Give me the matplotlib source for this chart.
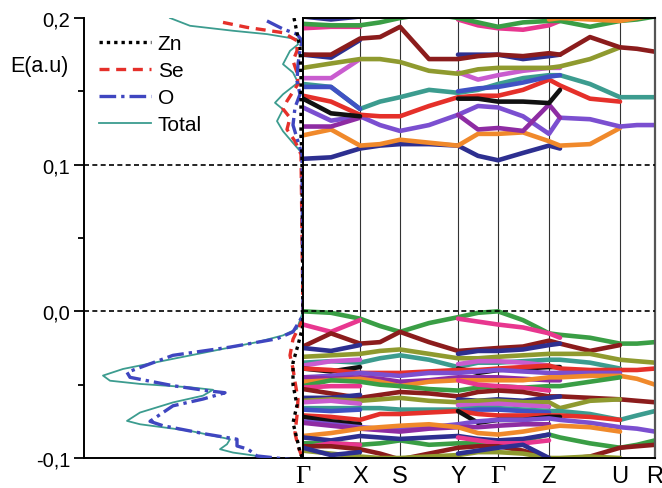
import numpy as np
import matplotlib
matplotlib.use("Agg")
import matplotlib.pyplot as plt

plt.rcParams['font.family'] = ['Liberation Sans', 'DejaVu Sans']
nan = np.nan

# ---------------- k path ----------------
k_nodes = [0, 28, 57, 77, 97, 126, 155, 175, 195, 220, 246, 257, 287, 317, 334, 352]
sym_k = [0, 57, 97, 155, 195, 246, 317, 352]
sym_labels = ['Γ', 'X', 'S', 'Y', 'Γ', 'Z', 'U', 'R']

C = {
    'navy': '#2d2f90', 'orange': '#f0892b', 'violet': '#7b4fd0', 'dpurple': '#8e2ca3',
    'red': '#e5302a', 'black': '#111111', 'teal': '#3c9c8f', 'blue': '#4052c4',
    'orchid': '#c95ccf', 'olive': '#8f9a2f', 'dred': '#8b1c1c', 'green': '#3a9e45',
    'pink': '#e8378f',
}

# ---------------- conduction bands (a.u.) ----------------
cond_colors = ['navy', 'orange', 'violet', 'dpurple', 'red', 'black', 'teal', 'blue',
               'orchid', 'olive', 'navy', 'dred', 'pink', 'green', 'orange', 'navy']
cond_bands = [
    [.104, .105, .111, .113, .114, .114, .113, .106, .103, .108, .113, .111, nan, nan, nan, nan],
    [.120, .124, .113, .114, .117, .115, .113, .121, .121, .122, .116, .113, .114, .125, nan, nan],
    [.139, .130, .133, .127, .123, .127, .134, .140, .139, .133, .121, .132, .131, .126, .127, .127],
    [.126, .126, .132, nan, nan, nan, .134, .124, .125, .123, .141, .132, nan, nan, nan, nan],
    [.147, .143, .134, .133, .133, .140, .146, .147, .147, .151, .158, .154, .145, .143, nan, nan],
    [.145, .135, .133, nan, nan, nan, .145, .145, .143, .143, .142, .151, nan, nan, nan, nan],
    [.155, .153, .138, .143, .146, .151, .149, .151, .155, .159, .161, .161, .155, .146, .146, .146],
    [.153, .153, .138, nan, nan, nan, .150, .152, .153, .156, .160, .161, nan, nan, nan, nan],
    [.159, .159, .172, nan, nan, nan, .163, .158, .161, .164, .166, .166, nan, nan, nan, nan],
    [.166, .169, .172, .172, .170, .164, .162, .165, .166, .166, .166, .167, .172, .180, nan, nan],
    [.175, .173, .185, nan, nan, nan, .175, .175, .175, .172, .174, .175, nan, nan, nan, nan],
    [.175, .175, .186, .187, .194, .172, .172, .174, .175, .174, .176, .175, .187, .180, .179, .177],
    [.193, .194, .194, nan, nan, nan, .199, .195, .193, .192, .195, .198, nan, nan, nan, nan],
    [.196, .195, .195, .197, .200, .203, .200, .197, .194, .197, .198, .198, .194, .198, .199, .201],
    [nan, nan, nan, nan, nan, nan, nan, nan, nan, nan, .199, .200, .199, .198, .200, .202],
    [.201, .199, .201, nan, nan, nan, nan, nan, nan, nan, nan, nan, nan, nan, nan, nan],
]

# ---------------- valence bands (a.u.) ----------------
val_colors = ['green', 'pink', 'dred', 'navy', 'olive', 'teal', 'orchid', 'black', 'red',
              'violet', 'dpurple', 'orange', 'green', 'pink', 'dred', 'navy', 'olive',
              'orchid', 'teal', 'blue', 'red', 'black', 'violet', 'dpurple', 'orange',
              'green', 'navy', 'pink', 'dred', 'olive', 'navy']
val_bands = [
    [.000, -.001, -.005, -.010, -.014, -.008, -.004, -.001, .000, -.006, -.015, -.016, -.018, -.022, -.022, -.021],
    [-.009, -.014, -.006, nan, nan, nan, -.005, -.007, -.009, -.011, -.015, -.018, nan, nan, nan, nan],
    [-.024, -.015, -.022, -.021, -.014, -.021, -.027, -.026, -.025, -.024, -.020, -.022, -.027, -.023, nan, nan],
    [-.025, -.027, -.023, nan, nan, nan, -.029, -.027, -.027, -.026, -.023, -.022, nan, nan, nan, nan],
    [-.031, -.030, -.029, -.027, -.026, -.029, -.032, -.032, -.031, -.030, -.029, -.029, -.029, -.033, -.034, -.035],
    [-.035, -.034, -.035, -.032, -.030, -.033, -.038, -.035, -.035, -.034, -.033, -.033, -.035, -.039, nan, nan],
    [-.037, -.034, -.033, nan, nan, nan, -.036, -.034, -.034, -.035, -.037, nan, nan, nan, nan, nan],
    [-.039, -.041, -.038, nan, nan, nan, -.039, -.042, -.040, -.039, -.038, -.038, nan, nan, nan, nan],
    [-.039, -.040, -.042, -.042, -.042, -.041, -.040, -.040, -.039, -.038, -.037, -.039, -.040, -.040, -.040, -.039],
    [-.045, -.044, -.042, -.043, -.044, -.042, -.042, -.041, -.040, -.041, -.042, -.042, -.042, -.042, nan, nan],
    [-.045, -.046, -.045, -.046, -.048, -.047, -.045, -.045, -.045, -.046, -.047, -.047, nan, nan, nan, nan],
    [-.048, -.047, -.046, -.048, -.051, -.048, -.047, -.047, -.047, -.047, -.045, -.045, -.044, -.044, -.046, -.050],
    [-.051, -.047, -.048, -.050, -.051, -.053, -.054, -.052, -.051, -.052, -.051, -.051, -.048, -.045, nan, nan],
    [-.052, -.051, -.051, nan, nan, nan, -.047, -.050, -.051, -.052, -.054, nan, nan, nan, nan, nan],
    [-.053, -.056, -.059, -.057, -.055, -.056, -.058, -.055, -.054, -.055, -.058, -.058, -.059, -.060, -.061, -.062],
    [-.059, -.059, -.057, nan, nan, nan, -.060, -.061, -.060, -.061, -.059, -.058, nan, nan, nan, nan],
    [-.061, -.060, -.061, -.060, -.059, -.061, -.062, -.061, -.061, -.062, -.062, -.066, -.061, -.060, nan, nan],
    [-.062, -.061, -.063, nan, nan, nan, -.064, -.064, -.063, -.064, -.065, nan, nan, nan, nan, nan],
    [-.066, -.066, -.066, -.066, -.067, -.067, -.067, -.066, -.066, -.067, -.068, -.068, -.070, -.074, -.071, -.068],
    [-.067, -.068, -.067, nan, nan, nan, -.068, -.067, -.067, -.068, -.069, nan, nan, nan, nan, nan],
    [-.071, -.072, -.074, -.070, -.070, -.069, -.068, -.070, -.071, -.071, -.071, -.071, -.072, -.074, nan, nan],
    [-.072, -.075, -.077, nan, nan, nan, -.068, -.076, -.074, -.074, -.072, -.072, nan, nan, nan, nan],
    [-.075, -.077, -.079, -.080, -.080, -.079, -.077, -.075, -.074, -.074, -.073, -.074, -.076, -.079, -.080, -.082],
    [-.076, -.078, -.080, -.081, -.082, -.080, -.079, -.079, -.078, -.077, -.077, nan, nan, nan, nan, nan],
    [-.085, -.083, -.080, -.079, -.078, -.077, -.079, -.083, -.084, -.082, -.079, -.078, -.079, -.082, nan, nan],
    [-.090, -.090, -.091, -.090, -.088, -.091, -.090, -.090, -.091, -.088, -.084, -.086, -.090, -.093, -.091, -.088],
    [-.086, -.088, -.085, -.086, -.087, -.086, -.085, -.087, -.088, -.087, -.084, nan, nan, nan, nan, nan],
    [-.093, -.090, -.091, nan, nan, nan, -.086, -.088, -.090, -.090, -.088, nan, nan, nan, nan, nan],
    [-.092, -.092, -.094, -.097, -.101, -.097, -.093, -.092, -.092, -.095, -.100, -.101, -.099, -.093, -.092, -.091],
    [-.095, -.097, -.099, -.100, -.100, -.099, -.098, -.096, -.096, -.097, -.100, -.100, -.099, -.100, nan, nan],
    [-.093, -.098, -.096, nan, nan, nan, -.097, -.095, -.093, -.091, -.100, nan, nan, nan, nan, nan],
]

# ---------------- PDOS (arbitrary units) ----------------
tot_E = [0.200, 0.1947, 0.1913, 0.189, 0.1856, 0.182, 0.1776, 0.1685, 0.1628, 0.156, 0.148,
         0.1422, 0.1377, 0.1297, 0.1228, 0.1148, 0.107, 0.102, 0.0,
         -0.0119, -0.0164, -0.021, -0.0256, -0.0324, -0.0393, -0.0438, -0.0473, -0.0495,
         -0.0518, -0.0535, -0.0575, -0.0621, -0.069, -0.0747, -0.077, -0.0815, -0.0872,
         -0.0906, -0.094, -0.0963, -0.0986, -0.101]
tot_D = [13.3, 11.3, 7.0, 3.6, 0.6, 0.5, 1.3, 2.0, 1.0, 0.5, 2.0,
         2.8, 2.0, 2.6, 2.0, 1.0, 0.0, 0.0, 0.0,
         0.6, 2.0, 4.6, 8.0, 13.0, 18.0, 20.0, 19.3, 16.3,
         11.3, 9.0, 10.0, 13.0, 16.3, 17.6, 16.3, 11.3, 7.3,
         7.6, 8.3, 7.0, 4.6, 2.6]

o_E = [0.198, 0.1925, 0.189, 0.1845, 0.178, 0.1685, 0.157, 0.148, 0.139, 0.127, 0.118, 0.107,
       -0.0027, -0.014, -0.0187, -0.0244, -0.030, -0.0416, -0.045, -0.0507, -0.0541, -0.0555,
       -0.0598, -0.0644, -0.0750, -0.078, -0.0838, -0.0872, -0.0918, -0.094, -0.0986, -0.101]
o_D = [3.6, 2.0, 0.6, 0.1, 0.3, 0.5, 0.6, 0.3, 0.8, 1.0, 0.6, 0.1,
       0.0, 1.0, 2.6, 7.3, 13.0, 17.6, 17.3, 13.0, 9.6, 7.8,
       10.0, 13.0, 15.3, 14.0, 9.6, 6.6, 6.6, 5.5, 4.6, 1.3]

se_E = [0.197, 0.1936, 0.190, 0.1845, 0.1776, 0.1708, 0.1628, 0.155, 0.1434, 0.138, 0.132,
        0.124, 0.116, 0.107,
        -0.005, -0.019, -0.030, -0.039, -0.048, -0.060, -0.071, -0.083, -0.092, -0.101]
se_D = [8.0, 5.6, 2.0, 0.6, 0.6, 1.0, 0.6, 0.5, 1.6, 2.0, 1.3,
        1.6, 0.8, 0.2,
        0.0, 1.0, 1.3, 1.0, 0.8, 0.5, 0.6, 0.8, 0.5, 0.0]

zn_E = [0.200, 0.190, 0.180, 0.160, 0.140, 0.120, 0.105,
        -0.0096, -0.023, -0.035, -0.050, -0.064, -0.076, -0.087, -0.096, -0.101]
zn_D = [0.9, 0.6, 0.3, 0.2, 0.2, 0.2, 0.1,
        0.0, 0.5, 1.0, 1.0, 0.6, 1.0, 0.6, 0.3, 0.0]

y_ticks = [-0.1, 0.0, 0.1, 0.2]
y_ticklabels = ['-0,1', '0,0', '0,1', '0,2']
ref_lines = [0.1, 0.0]

# ---------------- figure ----------------
W, H = 662, 489
fig = plt.figure(figsize=(W / 100, H / 100), dpi=100)
bottom = (H - 459) / H
height = (459 - 19) / H
ax_d = fig.add_axes([84 / W, bottom, (303 - 84) / W, height])
ax_b = fig.add_axes([303 / W, bottom, (655 - 303) / W, height], sharey=ax_d)

# DOS panel
ax_d.plot(zn_D, zn_E, color='black', lw=2.4, ls=(0, (1, 1.2)), label='Zn', zorder=4)
ax_d.plot(se_D, se_E, color='#e5302a', lw=2.4, ls=(0, (3, 2)), label='Se', zorder=3)
ax_d.plot(o_D, o_E, color='#3f46c0', lw=2.4, ls=(0, (5, 1.5, 1, 1.5)), label='O', zorder=3)
ax_d.plot(tot_D, tot_E, color='#3c9c8f', lw=1.3, label='Total', zorder=2)
ax_d.set_xlim(21.9, 0)
ax_d.set_ylim(-0.1, 0.2)
for y in ref_lines:
    ax_d.axhline(y, color='black', lw=1.2, ls=(0, (3, 2)), zorder=5)
ax_d.spines['top'].set_visible(False)
for s in ['left', 'bottom', 'right']:
    ax_d.spines[s].set_linewidth(1.4)
    ax_d.spines[s].set_color('black')
ax_d.set_xticks([])
ax_d.set_yticks(y_ticks)
ax_d.set_yticklabels(y_ticklabels, fontsize=14.5)
ax_d.set_yticks([-0.05, 0.05, 0.15], minor=True)
ax_d.tick_params(axis='y', which='major', direction='out', length=7, width=1.3, pad=3)
ax_d.tick_params(axis='y', which='minor', direction='out', length=4, width=1.3)
leg = ax_d.legend(loc='upper left', bbox_to_anchor=(0.07, 0.963), frameon=False,
                  fontsize=15, handlelength=2.5, handletextpad=0.3, labelspacing=0.38,
                  borderpad=0, borderaxespad=0)
fig.text(10 / W, 1 - 67 / H, 'E(a.u)', fontsize=15.5, ha='left', va='center')

# Band panel
for vals, c in zip(val_bands, val_colors):
    ax_b.plot(k_nodes, vals, color=C[c], lw=3.3, solid_capstyle='round',
              solid_joinstyle='round', zorder=2)
for vals, c in zip(cond_bands, cond_colors):
    ax_b.plot(k_nodes, vals, color=C[c], lw=3.3, solid_capstyle='round',
              solid_joinstyle='round', zorder=2)
for kx in sym_k[1:-1]:
    ax_b.axvline(kx, color='#333333', lw=0.8, zorder=1)
for y in ref_lines:
    ax_b.axhline(y, color='black', lw=1.2, ls=(0, (3, 2)), zorder=5)
ax_b.set_xlim(sym_k[0], sym_k[-1])
ax_b.set_ylim(-0.1, 0.2)
ax_b.set_xticks(sym_k)
ax_b.set_xticklabels(sym_labels, fontsize=17)
for t in ax_b.get_xticklabels():
    if t.get_text() == 'Γ':
        t.set_family(['Liberation Serif', 'DejaVu Serif'])
        t.set_fontsize(19)
ax_b.tick_params(axis='x', length=0, pad=5)
ax_b.tick_params(axis='y', left=False, labelleft=False, which='both')
for s in ['left', 'bottom', 'top']:
    ax_b.spines[s].set_linewidth(1.4)
    ax_b.spines[s].set_color('black')
ax_b.spines['right'].set_linewidth(1.6)
ax_b.spines['right'].set_color('#555555')
ax_b.set_zorder(ax_d.get_zorder() + 1)

fig.savefig('out.png', dpi=100)
